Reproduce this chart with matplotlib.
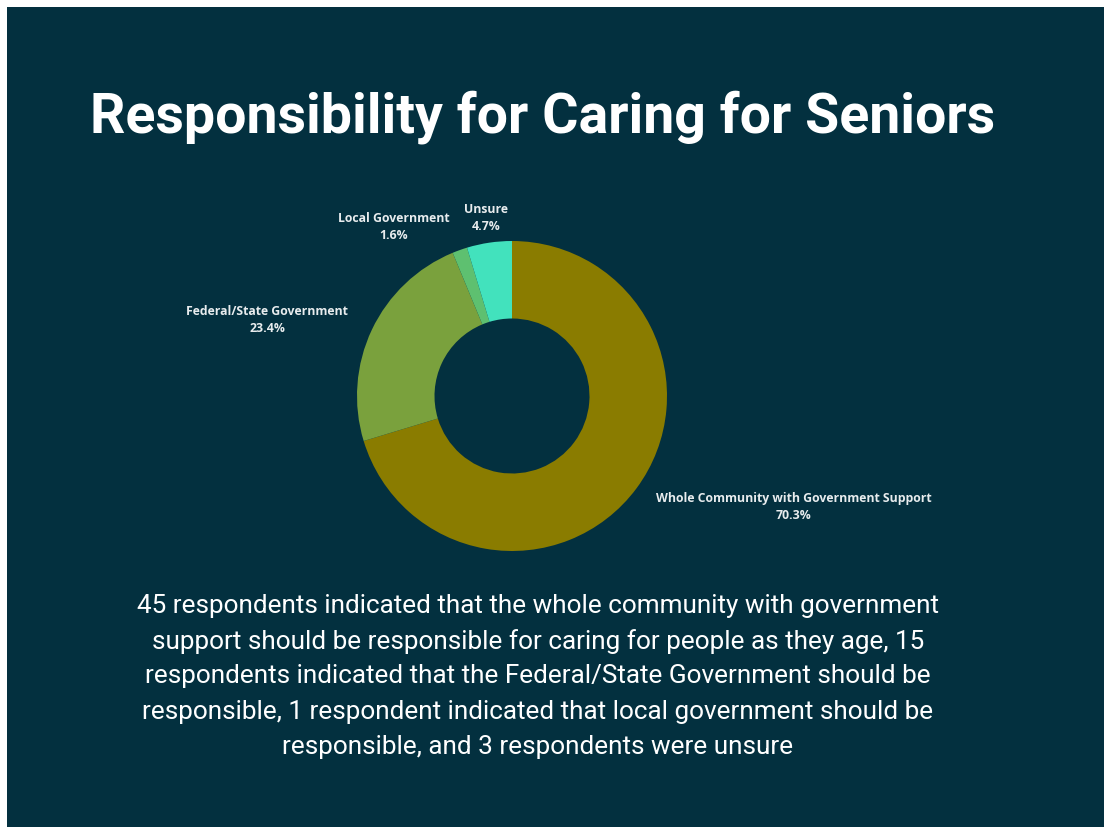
import matplotlib
matplotlib.use("Agg")
import matplotlib.pyplot as plt
from matplotlib.patches import Rectangle

# data
categories = ["Whole Community with Government Support", "Federal/State Government",
              "Local Government", "Unsure"]
counts = [45, 15, 1, 3]
colors = ["#8a7c00", "#7aa13d", "#5ec070", "#42e2bd"]

title = "Responsibility for Caring for Seniors"
summary_lines = [
    "45 respondents indicated that the whole community with government",
    "support should be responsible for caring for people as they age, 15",
    "respondents indicated that the Federal/State Government should be",
    "responsible, 1 respondent indicated that local government should be",
    "responsible, and 3 respondents were unsure",
]

W, H = 1104, 828
BG = "#03303f"

# label centres in pixels (x, y from top) - layout only
label_pos = {
    "Whole Community with Government Support": (794, 507),
    "Federal/State Government": (267, 320),
    "Local Government": (394, 227),
    "Unsure": (486, 218),
}


def fx(x):
    return x / W


def fy(y):
    return 1 - y / H


fig = plt.figure(figsize=(W / 100, H / 100), dpi=100, facecolor="white")
fig.patches.append(Rectangle((fx(7), 0), 1 - fx(7), fy(8), transform=fig.transFigure,
                             facecolor=BG, edgecolor="none", zorder=-5))

# donut
cx, cy, r = 512, 397, 155
ax = fig.add_axes([fx(cx - r), fy(cy + r), 2 * r / W, 2 * r / H])
ax.pie(counts, colors=colors, startangle=90, counterclock=False, radius=1,
       wedgeprops=dict(width=0.5, edgecolor="none"))
ax.set_xlim(-1, 1)
ax.set_ylim(-1, 1)
ax.set_aspect("equal")
ax.axis("off")
ax.patch.set_visible(False)

total = sum(counts)
for cat, n in zip(categories, counts):
    x, y = label_pos[cat]
    fig.text(fx(x), fy(y), f"{cat}\n{100 * n / total:.1f}%", ha="center", va="center",
             color="#e8ecee", fontsize=8.8, fontweight="bold", family="Open Sans",
             linespacing=1.35)

fig.text(fx(543), fy(133), title, ha="center", va="baseline", color="white",
         fontsize=40, fontweight="bold", family="Roboto")

for i, line in enumerate(summary_lines):
    fig.text(fx(538), fy(606 + 35.2 * i), line, ha="center", va="center",
             color="white", fontsize=18.8, family="Roboto")

fig.savefig("out.png", dpi=100, facecolor="white")
